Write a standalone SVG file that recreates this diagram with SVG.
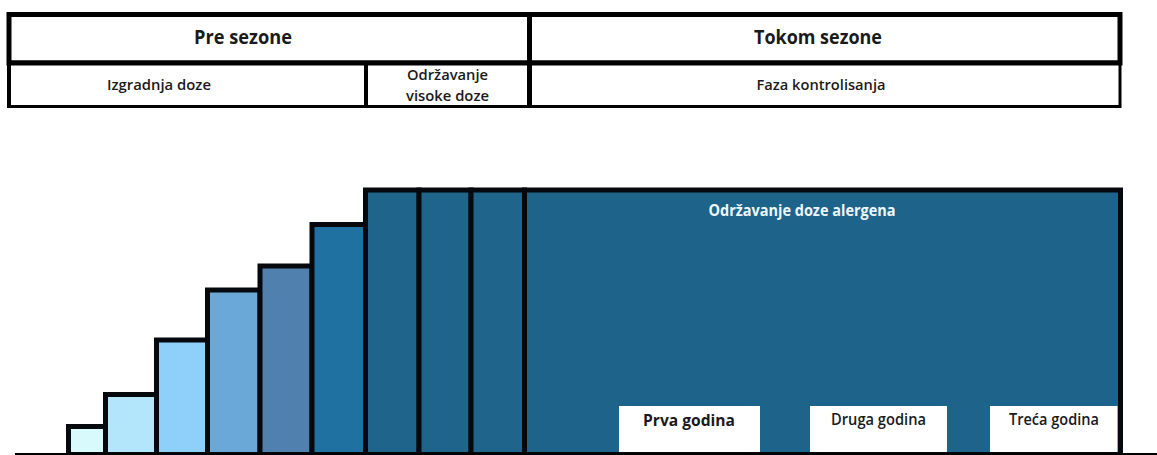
<svg xmlns="http://www.w3.org/2000/svg" width="1157" height="455" viewBox="0 0 1157 455">
<style>
.t{font-family:"Open Sans","Noto Sans","Liberation Sans",sans-serif;fill:#1a1a1a;text-anchor:middle}
.h{font-size:19px;font-weight:bold}
.s{font-size:15px;font-weight:600}
.step{stroke:#05080d;stroke-width:5}
.cell{fill:#fff;stroke:#000}
.box{fill:#fff}
.w{fill:#eef7fc;font-size:15.5px;font-weight:bold}
.b{font-size:15.5px}
</style>
<rect width="1157" height="455" fill="#fff"/>
<g id="table">
  <g id="pre-sezone">
    <rect class="cell" x="9" y="14.5" width="520.5" height="48.5" stroke-width="5"/>
    <text class="t h" x="243" y="44" textLength="98" lengthAdjust="spacingAndGlyphs">Pre sezone</text>
  </g>
  <g id="tokom-sezone">
    <rect class="cell" x="529.5" y="14.5" width="590.5" height="48.5" stroke-width="5"/>
    <text class="t h" x="818" y="44" textLength="128" lengthAdjust="spacingAndGlyphs">Tokom sezone</text>
  </g>
  <g id="izgradnja-doze">
    <rect class="cell" x="9" y="63" width="357" height="43.5" stroke-width="3"/>
    <text class="t s" x="159" y="89.5" textLength="104" lengthAdjust="spacingAndGlyphs">Izgradnja doze</text>
  </g>
  <g id="odrzavanje-visoke-doze">
    <rect class="cell" x="366" y="63" width="163.5" height="43.5" stroke-width="3"/>
    <text class="t s" x="447.5" y="80" textLength="81" lengthAdjust="spacingAndGlyphs">Održavanje</text>
    <text class="t s" x="447.5" y="100.5" textLength="83" lengthAdjust="spacingAndGlyphs">visoke doze</text>
  </g>
  <g id="faza-kontrolisanja">
    <rect class="cell" x="529.5" y="63" width="590.5" height="43.5" stroke-width="3"/>
    <text class="t s" x="821" y="90" textLength="129" lengthAdjust="spacingAndGlyphs">Faza kontrolisanja</text>
  </g>
  <g id="table-lines" fill="none" stroke="#000">
    <line x1="9" y1="63" x2="1120" y2="63" stroke-width="5"/>
    <line x1="529.5" y1="12" x2="529.5" y2="107" stroke-width="5"/>
    <line x1="366" y1="63" x2="366" y2="107" stroke-width="4"/>
    <line x1="9" y1="12" x2="9" y2="108" stroke-width="4"/>
  </g>
</g>
<g id="chart">
  <g id="step1"><rect class="step" x="68.5" y="426.5" width="37" height="28" fill="#d8fafd"/></g>
  <g id="step2"><rect class="step" x="105.5" y="394.5" width="51" height="60" fill="#b4e6fb"/></g>
  <g id="step3"><rect class="step" x="156.5" y="340" width="51" height="114.5" fill="#8fd0fb"/></g>
  <g id="step4"><rect class="step" x="207.5" y="290" width="52.5" height="164.5" fill="#6aa9d7"/></g>
  <g id="step5"><rect class="step" x="260" y="266" width="52" height="188.5" fill="#5080ae"/></g>
  <g id="step6"><rect class="step" x="312" y="224.5" width="53.5" height="230" fill="#1e71a0"/></g>
  <g id="step7"><rect class="step" x="365.5" y="190" width="53.5" height="264.5" fill="#1f648b"/></g>
  <g id="step8"><rect class="step" x="419" y="190" width="52" height="264.5" fill="#1f648b"/></g>
  <g id="step9"><rect class="step" x="471" y="190" width="53.5" height="264.5" fill="#1f648b"/></g>
  <g id="maintenance">
    <rect class="step" x="524.5" y="190" width="596" height="264.5" fill="#1e6389"/>
    <text class="t w" x="802" y="216" textLength="187" lengthAdjust="spacingAndGlyphs">Održavanje doze alergena</text>
  </g>
  <g id="prva-godina">
    <rect class="box" x="619" y="406" width="141" height="46"/>
    <text class="t b" x="689" y="426" font-weight="bold" textLength="92" lengthAdjust="spacingAndGlyphs">Prva godina</text>
  </g>
  <g id="druga-godina">
    <rect class="box" x="810" y="406" width="137" height="46"/>
    <text class="t b" x="878.5" y="424.5" font-weight="600" textLength="95" lengthAdjust="spacingAndGlyphs">Druga godina</text>
  </g>
  <g id="treca-godina">
    <rect class="box" x="990" y="406" width="127.5" height="46"/>
    <text class="t b" x="1054" y="424.5" font-weight="600" textLength="90" lengthAdjust="spacingAndGlyphs">Treća godina</text>
  </g>
</g>
<g id="connectors">
  <line x1="15" y1="454" x2="1157" y2="454" stroke="#000" stroke-width="2"/>
</g>
</svg>
